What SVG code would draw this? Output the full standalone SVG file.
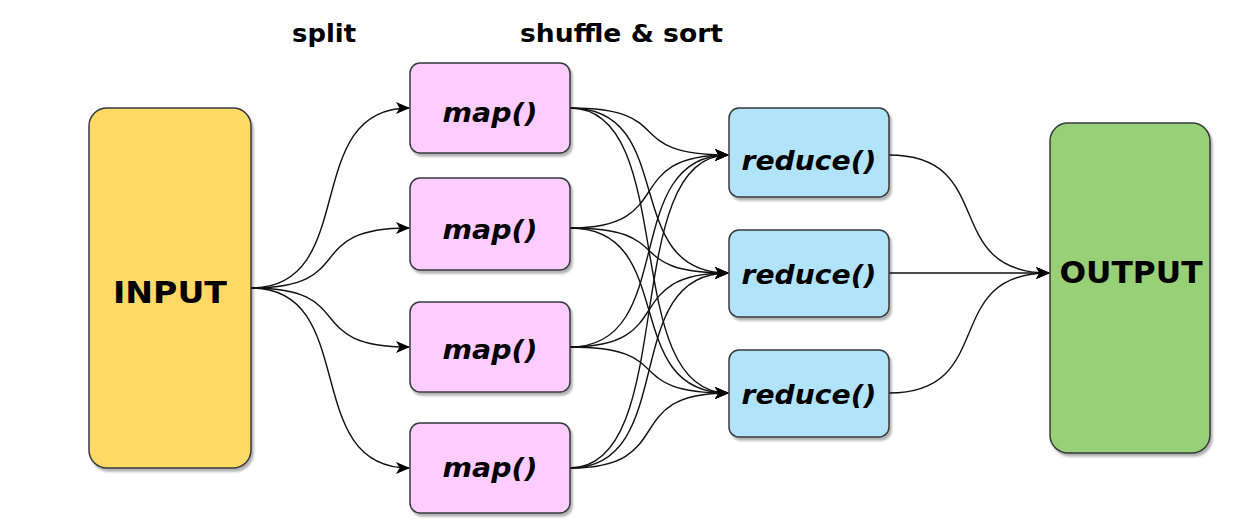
<svg xmlns="http://www.w3.org/2000/svg" width="1238" height="526" viewBox="0 0 1238 526">
<defs>
<filter id="sh" x="-10%" y="-10%" width="130%" height="130%">
<feDropShadow dx="2" dy="3" stdDeviation="1.2" flood-color="#000" flood-opacity="0.3"/>
</filter>
<marker id="arr" viewBox="0 0 14 12" refX="13" refY="6" markerWidth="14" markerHeight="12" markerUnits="userSpaceOnUse" orient="auto">
<path d="M0,0 L14,6 L0,12 L3.5,6 Z" fill="#000"/>
</marker>
</defs>
<style>
.box{stroke:#36393d;stroke-width:1.5;filter:url(#sh)}
.in{fill:#FFD966}
.out{fill:#97D077}
.map{fill:#FFCCFF}
.red{fill:#B1E3FA}
.big{font-family:"DejaVu Sans",Verdana,sans-serif;font-weight:bold;font-size:30px;fill:#000}
.fn{font-family:"DejaVu Sans",Verdana,sans-serif;font-weight:bold;font-style:italic;font-size:26px;fill:#000}
.lbl{font-family:"DejaVu Sans",Verdana,sans-serif;font-weight:bold;font-size:24px;fill:#000}
.c{fill:none;stroke:#111;stroke-width:1.4}
.a{marker-end:url(#arr)}
</style>
<g id="labels">
<text class="lbl" x="292" y="42" textLength="64" lengthAdjust="spacingAndGlyphs">split</text>
<text class="lbl" x="520" y="42" textLength="203" lengthAdjust="spacingAndGlyphs">shuffle &amp; sort</text>
</g>
<g id="connectors">
<path class="c a" d="M251,288 C361,288 299,108 409,108"/>
<path class="c a" d="M251,288 C361,288 299,228 409,228"/>
<path class="c a" d="M251,288 C361,288 299,347 409,347"/>
<path class="c a" d="M251,288 C361,288 299,468 409,468"/>
<path class="c a" d="M570,108 C680,108 618,155 728,155"/>
<path class="c a" d="M570,108 C680,108 618,273 728,273"/>
<path class="c a" d="M570,108 C680,108 618,393 728,393"/>
<path class="c a" d="M570,228 C680,228 618,155 728,155"/>
<path class="c a" d="M570,228 C680,228 618,273 728,273"/>
<path class="c a" d="M570,228 C680,228 618,393 728,393"/>
<path class="c a" d="M570,347 C680,347 618,155 728,155"/>
<path class="c a" d="M570,347 C680,347 618,273 728,273"/>
<path class="c a" d="M570,347 C680,347 618,393 728,393"/>
<path class="c a" d="M570,468 C680,468 618,155 728,155"/>
<path class="c a" d="M570,468 C680,468 618,273 728,273"/>
<path class="c a" d="M570,468 C680,468 618,393 728,393"/>
<path class="c a" d="M889,155 C999,155 939,273 1049,273"/>
<path class="c a" d="M889,273 L1049,273"/>
<path class="c a" d="M889,393 C999,393 939,273 1049,273"/>
</g>
<g id="input">
<rect class="box in" x="89" y="108" width="162" height="360" rx="18"/>
<text class="big" x="170" y="303" text-anchor="middle" textLength="114" lengthAdjust="spacingAndGlyphs">INPUT</text>
</g>
<g id="map1">
<rect class="box map" x="410" y="63" width="160" height="90" rx="10"/>
<text class="fn" x="490" y="122" text-anchor="middle" textLength="95" lengthAdjust="spacingAndGlyphs">map()</text>
</g>
<g id="map2">
<rect class="box map" x="410" y="178" width="160" height="92" rx="10"/>
<text class="fn" x="490" y="239" text-anchor="middle" textLength="95" lengthAdjust="spacingAndGlyphs">map()</text>
</g>
<g id="map3">
<rect class="box map" x="410" y="302" width="160" height="90" rx="10"/>
<text class="fn" x="490" y="359" text-anchor="middle" textLength="95" lengthAdjust="spacingAndGlyphs">map()</text>
</g>
<g id="map4">
<rect class="box map" x="410" y="423" width="160" height="90" rx="10"/>
<text class="fn" x="490" y="477" text-anchor="middle" textLength="95" lengthAdjust="spacingAndGlyphs">map()</text>
</g>
<g id="reduce1">
<rect class="box red" x="729" y="108" width="160" height="89" rx="10"/>
<text class="fn" x="809" y="170" text-anchor="middle" textLength="135" lengthAdjust="spacingAndGlyphs">reduce()</text>
</g>
<g id="reduce2">
<rect class="box red" x="729" y="230" width="160" height="87" rx="10"/>
<text class="fn" x="809" y="284" text-anchor="middle" textLength="135" lengthAdjust="spacingAndGlyphs">reduce()</text>
</g>
<g id="reduce3">
<rect class="box red" x="729" y="350" width="160" height="87" rx="10"/>
<text class="fn" x="809" y="404" text-anchor="middle" textLength="135" lengthAdjust="spacingAndGlyphs">reduce()</text>
</g>
<g id="output">
<rect class="box out" x="1050" y="123" width="160" height="330" rx="18"/>
<text class="big" x="1131" y="283" text-anchor="middle" textLength="143" lengthAdjust="spacingAndGlyphs">OUTPUT</text>
</g>
</svg>
